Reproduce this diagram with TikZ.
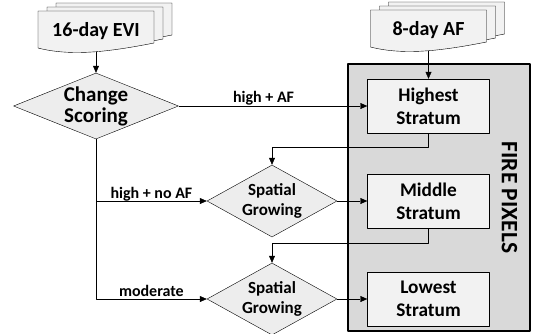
\documentclass[tikz,border=0pt]{standalone}
\usepackage{fontspec}
\setmainfont{Carlito}
\usetikzlibrary{shapes.geometric,arrows.meta,calc}
\definecolor{firegray}{HTML}{D9D9D9}
\definecolor{boxgray}{HTML}{F2F2F2}
\definecolor{diagray}{HTML}{EDEDED}
\pgfdeclarelayer{back}
\pgfsetlayers{back,main}
\tikzset{
  stratum/.style={draw, fill=boxgray, minimum width=122pt, minimum height=54pt, align=center, font=\bfseries\fontsize{19.3}{23}\selectfont},
  decision/.style={draw, fill=diagray, diamond, inner sep=0pt, align=center},
  docnode/.style={outer sep=0pt, minimum width=116pt, minimum height=37pt, text depth=0pt, font=\bfseries\fontsize{20}{24}\selectfont},
  lbl/.style={inner sep=0pt, text depth=2.5pt, font=\bfseries\fontsize{16}{19}\selectfont},
}
\newcommand{\docsheet}[3]{%
  \draw[fill=boxgray] ($(#1.north west)+(#2,#3)$) -- ($(#1.north east)+(#2,#3)$)
    -- ($(#1.south east)+(#2,#3-5)$)
    .. controls ($(#1.south west)+(#2+75,#3+3)$) and ($(#1.south west)+(#2+35,#3+9)$)
    .. ($(#1.south west)+(#2,#3)$) -- cycle;}
\begin{document}
\begin{tikzpicture}[x=1pt,y=-1pt,line join=round,line width=1.2pt,>={Triangle[length=7pt,width=6pt]}]
  \useasboundingbox (0,0) rectangle (537,333);
  \node[draw, fill=firegray, minimum width=182pt, minimum height=267pt] (fire) at (439,197.5) {};
  \node[rotate=-90, font=\bfseries\fontsize{23.5}{28}\selectfont] (firelbl) at (509.5,197.5) {FIRE PIXELS};
  \node[docnode] (evi) at (96,29.5) {16-day EVI};
  \node[docnode] (af) at (428.5,28.5) {8-day AF};
  \begin{pgfonlayer}{back}
    \foreach \dx/\dy in {18/-8,9/-4,0/0} {
      \docsheet{evi}{\dx}{\dy}
      \docsheet{af}{\dx}{\dy}
    }
  \end{pgfonlayer}
  \node[decision, shape aspect=2.5, minimum width=165pt, minimum height=66pt, font=\bfseries\fontsize{21}{21}\selectfont] (change) at (96,106) {Change\\Scoring};
  \node[stratum] (high) at (428.5,106) {Highest\\Stratum};
  \node[stratum] (mid) at (428.5,201) {Middle\\Stratum};
  \node[stratum] (low) at (428.5,299) {Lowest\\Stratum};
  \node[decision, shape aspect=1.8, minimum width=130pt, minimum height=72pt, font=\bfseries\fontsize{17}{20}\selectfont] (grow1) at (272,201) {Spatial\\Growing};
  \node[decision, shape aspect=1.8, minimum width=130pt, minimum height=72pt, font=\bfseries\fontsize{17}{20}\selectfont] (grow2) at (272,299) {Spatial\\Growing};
  \draw[->] ($(evi.south)+(0,3.5)$) -- (change.north);
  \draw[->] ($(af.south)+(0,3.5)$) -- (high.north);
  \draw[->] (change.east) -- node[lbl, above=1pt, pos=0.45] {high + AF} (high.west);
  \draw[->] (change.south) |- node[lbl, above, pos=0.75] {high + no AF} (grow1.west);
  \draw[->] (change.south) |- node[lbl, above, pos=0.75] {moderate} (grow2.west);
  \draw[->] (high.south) -- ++(0,14) -| (grow1.north);
  \draw[->] (mid.south) -- ++(0,15) -| (grow2.north);
  \draw[->] (grow1.east) -- (mid.west);
  \draw[->] (grow2.east) -- (low.west);
\end{tikzpicture}
\end{document}
